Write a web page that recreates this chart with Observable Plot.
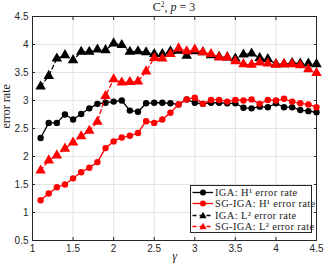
<!DOCTYPE html>
<html><head><meta charset="utf-8">
<script src="https://cdn.jsdelivr.net/npm/d3@7"></script>
<script src="https://cdn.jsdelivr.net/npm/@observablehq/plot@0.6"></script>
<style>
body{margin:0;background:#fff;}
#wrap{position:relative;width:324px;height:270px;overflow:hidden;}
#title{position:absolute;left:74px;width:200px;top:1px;text-align:center;font-family:"Liberation Serif",serif;font-size:12px;color:#222;line-height:13px;}
#title span.sup{font-size:7.5px;vertical-align:4px;line-height:0;}
#legend{position:absolute;left:190px;top:185px;width:122px;height:48px;border:1px solid #262626;background:#fff;font-family:"Liberation Serif",serif;font-size:10.5px;letter-spacing:0.35px;color:#222;box-sizing:border-box;padding-top:1px;}
#legend .row{display:flex;align-items:center;height:11.3px;white-space:nowrap;}
#legend svg{width:24px;height:11px;margin-right:0px;flex:none;}
</style></head><body><div id="wrap"><div id="title">C<span class="sup">2</span>, <i>p</i> = 3</div></div>
<script>
const gamma = [1.1,1.2,1.3,1.4,1.5,1.6,1.7,1.8,1.9,2.0,2.1,2.2,2.3,2.4,2.5,2.6,2.7,2.8,2.9,3.0,3.1,3.2,3.3,3.4,3.5,3.6,3.7,3.8,3.9,4.0,4.1,4.2,4.3,4.4,4.5];
const igaH1 = [2.33,2.60,2.60,2.75,2.66,2.76,2.86,2.94,2.96,2.98,3.00,2.82,2.80,2.95,2.96,2.96,2.95,2.93,3.02,2.96,2.94,2.96,2.96,2.95,2.95,2.87,2.86,2.89,2.88,2.95,2.88,2.88,2.83,2.81,2.79];
const sgH1 = [1.22,1.34,1.45,1.50,1.61,1.72,1.80,1.90,2.15,2.27,2.34,2.37,2.42,2.63,2.60,2.66,2.78,2.93,3.02,3.05,2.94,3.01,3.01,2.98,3.01,3.00,3.02,2.94,3.01,3.00,3.03,2.98,2.95,2.93,2.88];
const igaL2 = [3.25,3.44,3.75,3.81,3.72,3.87,3.87,3.91,3.90,4.02,3.99,3.87,3.88,3.86,3.83,3.83,3.88,3.89,3.80,3.88,3.86,3.81,3.78,3.77,3.75,3.82,3.84,3.76,3.74,3.65,3.65,3.67,3.66,3.66,3.65];
const sgL2 = [1.75,1.93,2.02,2.14,2.25,2.36,2.46,2.62,3.08,3.38,3.32,3.33,3.34,3.52,3.76,3.75,3.83,3.93,3.88,3.91,3.86,3.83,3.77,3.77,3.70,3.65,3.64,3.68,3.66,3.64,3.65,3.65,3.63,3.56,3.49];
const xTicks = [1,1.5,2,2.5,3,3.5,4,4.5];
const yTicks = [0.5,1,1.5,2,2.5,3,3.5,4,4.5];
const seriesNames = ["IGA: H¹ error rate","SG-IGA: H¹ error rate","IGA: L² error rate","SG-IGA: L² error rate"];
const seriesValues = [igaH1, sgH1, igaL2, sgL2];
const seriesColors = ["#000000","#ff0000","#000000","#ff0000"];
const seriesDash = [null,null,"4,3","4,3"];
const seriesSymbol = ["circle","circle","triangle","triangle"];

const marks = [
  Plot.gridX(xTicks, {stroke:"#e3e3e3", strokeOpacity:1}),
  Plot.gridY(yTicks, {stroke:"#e3e3e3", strokeOpacity:1}),
  Plot.axisX(xTicks, {tickSize:-3, tickPadding:7, tickFormat:d=>String(d), stroke:"#262626", fontSize:10, fill:"#262626", label:null}),
  Plot.axisY(yTicks, {tickSize:-3, tickPadding:7, tickFormat:d=>String(d), stroke:"#262626", fontSize:10, fill:"#262626", label:null}),
  Plot.axisX(xTicks, {anchor:"top", tickSize:-3, tickFormat:()=>"", stroke:"#262626", label:null}),
  Plot.axisY(yTicks, {anchor:"right", tickSize:-3, tickFormat:()=>"", stroke:"#262626", label:null}),
  Plot.frame({stroke:"#262626"})
];
seriesValues.forEach((vals, i) => {
  const data = gamma.map((g, j) => ({g, v: vals[j]}));
  marks.push(Plot.line(data, {x:"g", y:"v", stroke:seriesColors[i], strokeWidth:1.3, strokeDasharray:seriesDash[i]}));
  marks.push(Plot.dot(data, {x:"g", y:"v", fill:seriesColors[i], stroke:"none", symbol:seriesSymbol[i], r: seriesSymbol[i]==="circle" ? 3.2 : 3.9}));
});
marks.push(Plot.text(["error rate"], {frameAnchor:"left", rotate:-90, dx:-26, fontFamily:"Liberation Serif", fontSize:12, letterSpacing:"0.3px", fill:"#222"}));
marks.push(Plot.text(["γ"], {frameAnchor:"bottom", dy:19, fontFamily:"Liberation Serif", fontStyle:"italic", fontSize:12, fill:"#222"}));

const chart = Plot.plot({
  width:324, height:270,
  marginLeft:32, marginRight:8, marginTop:16, marginBottom:30,
  x:{domain:[1,4.5]},
  y:{domain:[0.5,4.5]},
  style:{fontFamily:"Liberation Sans, Arial, sans-serif", fontSize:"10px", background:"#fff"},
  marks
});
const wrap = document.getElementById("wrap");
wrap.insertBefore(chart, wrap.firstChild);

const legend = document.createElement("div");
legend.id = "legend";
seriesNames.forEach((name, i) => {
  const row = document.createElement("div");
  row.className = "row";
  const sym = seriesSymbol[i] === "circle"
    ? `<circle cx="12" cy="5.5" r="3" fill="${seriesColors[i]}"/>`
    : `<path d="M12,1.8L15.6,8.2H8.4Z" fill="${seriesColors[i]}"/>`;
  row.innerHTML = `<svg viewBox="0 0 24 11"><line x1="1.5" x2="22" y1="5.5" y2="5.5" stroke="${seriesColors[i]}" stroke-width="1.3" ${seriesDash[i] ? `stroke-dasharray="${seriesDash[i]}"` : ""}/>${sym}</svg><span>${name}</span>`;
  legend.appendChild(row);
});
wrap.appendChild(legend);
</script></body></html>
